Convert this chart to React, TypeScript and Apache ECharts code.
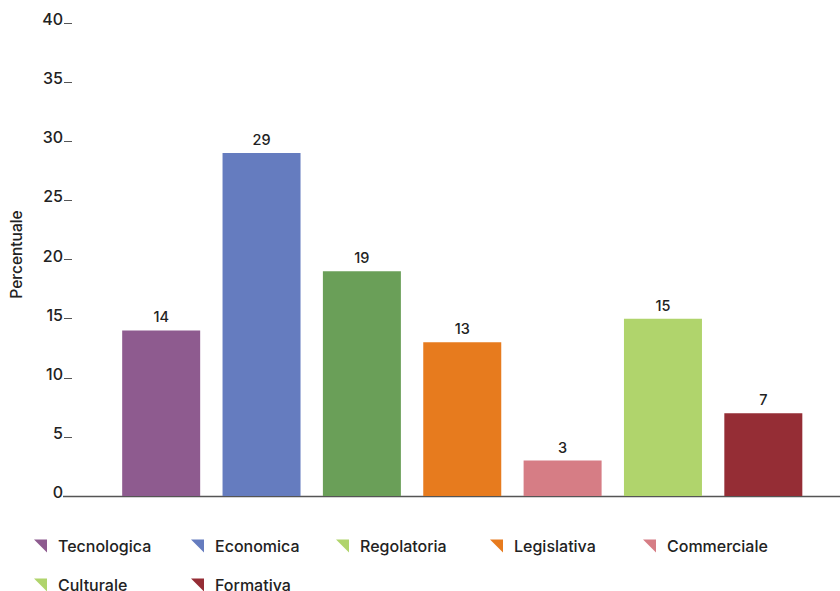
import React, { useEffect, useRef } from "react";
import * as echarts from "echarts";

const categories = ["Tecnologica", "Economica", "Regolatoria", "Legislativa", "Commerciale", "Culturale", "Formativa"];
const values = [14, 29, 19, 13, 3, 15, 7];
const barColors = ["#8e5b8f", "#657cbf", "#6a9f58", "#e77b1e", "#d67d85", "#b0d46c", "#952d35"];
const legendColors = ["#8e5b8f", "#657cbf", "#b0d46c", "#e77b1e", "#d67d85", "#b0d46c", "#952d35"];
const legendPos = [
  [34, 546], [191, 546], [336, 546], [490, 546], [643, 546],
  [34, 585], [191, 585],
];
const yTicks = { min: 0, max: 40, interval: 5 };

const FONT = "Inter, 'DejaVu Sans', sans-serif";

export default function App() {
  const ref = useRef<HTMLDivElement>(null);
  useEffect(() => {
    if (!ref.current) return;
    const chart = echarts.init(ref.current, null, { renderer: "svg" });
    const series = categories.map((name, i) => ({
      type: "bar",
      name,
      stack: "total",
      barWidth: 78,
      data: values.map((v, j) => (j === i ? v : "-")),
      itemStyle: { color: barColors[i] },
      label: {
        show: true,
        position: "top",
        distance: 6,
        color: "#222",
        fontSize: 14.5,
        fontWeight: 500,
        fontFamily: FONT,
      },
    }));
    const legends = categories.map((name, i) => ({
      show: true,
      left: legendPos[i][0],
      top: legendPos[i][1] - 9,
      padding: 0,
      itemWidth: 13,
      itemHeight: 13,
      icon: "path://M0,0L10,0L10,10Z",
      selectedMode: false,
      data: [{ name, itemStyle: { color: legendColors[i] } }],
      textStyle: {
        color: "#222",
        fontSize: 16,
        fontWeight: 550,
        fontFamily: FONT,
        lineHeight: 18,
        padding: [0, 0, 0, 6],
      },
    }));
    chart.setOption({
      animation: false,
      backgroundColor: "#fff",
      grid: { left: 110, right: 26.5, top: 23, bottom: 95, containLabel: false },
      legend: legends,
      xAxis: {
        type: "category",
        data: categories,
        axisLine: { show: false },
        axisTick: { show: false },
        axisLabel: { show: false },
      },
      yAxis: {
        type: "value",
        min: yTicks.min,
        max: yTicks.max,
        interval: yTicks.interval,
        offset: 47,
        name: "Percentuale",
        nameLocation: "middle",
        nameGap: 40,
        nameTextStyle: { color: "#222", fontSize: 15.5, fontWeight: 550, fontFamily: FONT, padding: [0, 0, 0, 10] },
        splitLine: { show: false },
        axisLine: { show: false },
        axisTick: { show: true, inside: true, length: 8, lineStyle: { color: "#555", width: 1 } },
        axisLabel: {
          color: "#222",
          fontSize: 16,
          fontWeight: 500,
          fontFamily: FONT,
          margin: 1,
          verticalAlign: "bottom",
          lineHeight: 8,
        },
      },
      graphic: [
        {
          type: "line",
          shape: { x1: 63, y1: 496.5, x2: 840, y2: 496.5 },
          style: { stroke: "#555", lineWidth: 1.5 },
          z: 0,
        },
      ],
      series,
    });
    return () => chart.dispose();
  }, []);
  return (
    <div
      ref={ref}
      style={{ position: "absolute", left: 0, top: 0, width: 840, height: 591, overflow: "hidden" }}
    />
  );
}
